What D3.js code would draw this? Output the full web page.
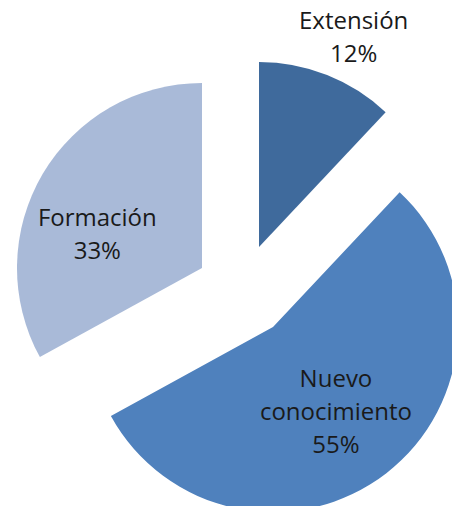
<!DOCTYPE html>
<html>
<head>
<meta charset="utf-8">
<script src="https://cdnjs.cloudflare.com/ajax/libs/d3/7.8.5/d3.min.js"></script>
<style>
    body { margin: 0; background: #fff; }
    text { font-family: "Open Sans", sans-serif; font-size: 24px; fill: #1a1a1a; }
</style>
</head>
<body>
<script>
(function(){

    //pseudo-global data
    var categories = ["Extensión", "Nuevo conocimiento", "Formación"];
    var values = [12, 55, 33]; //percent
    var labelLines = [["Extensión"], ["Nuevo", "conocimiento"], ["Formación"]];

    //layout / style (not data)
    var colors = ["#3F6A9C", "#4F81BD", "#A9BAD8"];
    var width = 452, height = 506,
        radius = 185,
        center = [236, 264];
    //exploded slice offsets from pie center
    var explode = [[23, -17], [37, 63], [-34, 4]];
    //distance of label from slice apex, plus small nudges
    var labelRadius = [230, 106, 110];
    var labelNudge = [[10, 4], [-2, 1], [-10, 22]];
    var lineHeight = 33;

    window.onload = drawChart();

    function drawChart(){
        var svg = d3.select("body")
            .append("svg")
            .attr("width", width)
            .attr("height", height);

        var pie = d3.pie()
            .sort(null)
            .value(function(d){ return d; });

        var arcs = pie(values);

        var arc = d3.arc()
            .innerRadius(0)
            .outerRadius(radius);

        var slices = svg.selectAll(".slice")
            .data(arcs)
            .enter()
            .append("g")
            .attr("class", "slice")
            .attr("transform", function(d, i){
                return "translate(" + (center[0] + explode[i][0]) + "," + (center[1] + explode[i][1]) + ")";
            });

        slices.append("path")
            .attr("d", arc)
            .style("fill", function(d, i){ return colors[i]; });

        //labels: category lines + percent
        slices.append("text")
            .attr("text-anchor", "middle")
            .each(function(d, i){
                var lr = labelRadius[i];
                var c = d3.arc().innerRadius(lr).outerRadius(lr).centroid(d);
                var cx = c[0] + labelNudge[i][0],
                    cy = c[1] + labelNudge[i][1];
                var lines = labelLines[i].concat([values[i] + "%"]);
                var first = cy - (lines.length - 1) * lineHeight / 2 + 8.5;
                var t = d3.select(this);
                lines.forEach(function(s, k){
                    t.append("tspan")
                        .attr("x", cx)
                        .attr("y", first + k * lineHeight)
                        .text(s);
                });
            });
    };

})();
</script>
</body>
</html>
